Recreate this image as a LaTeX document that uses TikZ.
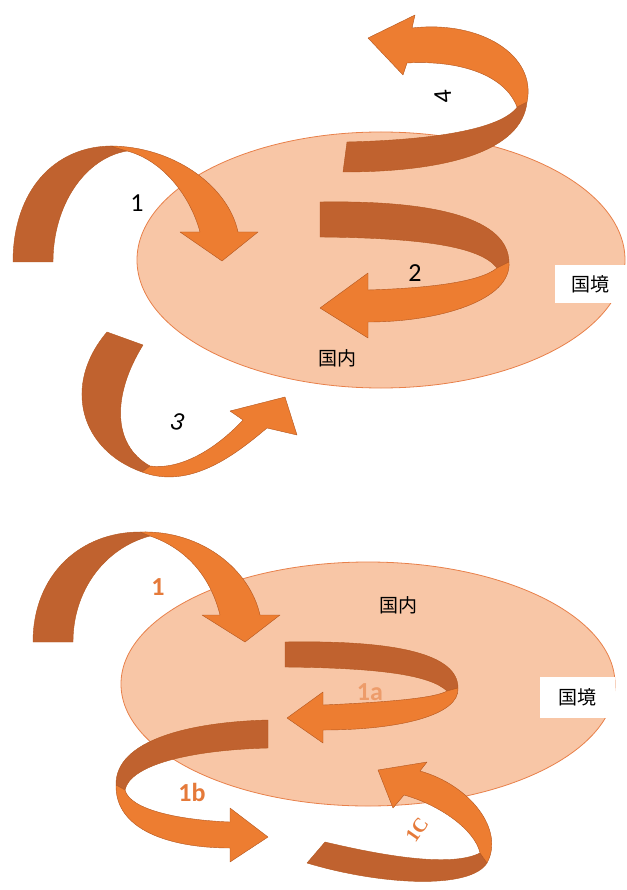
\documentclass[tikz,border=0pt]{standalone}
\usepackage{fontspec}
\setmainfont{Carlito}
\newfontfamily\cjkfont{Noto Sans CJK JP}
\newfontfamily\serifbold{Liberation Serif}
\usetikzlibrary{shapes.geometric}

\begin{document}
\begin{tikzpicture}[x=1pt, y=-1pt, font=\fontsize{26}{28}\selectfont]

\definecolor{ribbondark}{HTML}{C0622F}
\definecolor{ribbonlight}{HTML}{ED7D31}
\definecolor{ribbonedge}{HTML}{B3561F}
\definecolor{domfill}{HTML}{F8C6A6}
\definecolor{domline}{HTML}{E8804A}
\definecolor{labelorange}{HTML}{E57A3A}

\tikzset{
  countrydisc/.style={
    ellipse, draw=domline, fill=domfill, line width=0.8pt, inner sep=0pt
  },
  back/.style={fill=ribbondark, draw=ribbonedge, line width=0.4pt,
    line join=round},
  front/.style={fill=ribbonlight, draw=ribbonedge, line width=0.4pt,
    line join=round},
  place/.style={font=\cjkfont\fontsize{19}{21}\selectfont, text=black,
    inner sep=1pt},
  borderbox/.style={place, fill=white, inner sep=0pt},
  numlabel/.style={text=black},
  sublabel/.style={text=labelorange,
    font=\bfseries\fontsize{26}{28}\selectfont}
}

\useasboundingbox (0,0) rectangle (626,890);

% Upper picture: the country as one disc, four ways across its border.
\node[countrydisc, minimum width=488pt, minimum height=256pt] (domtop)
  at (381,260) {};
\node[borderbox, minimum width=71pt, minimum height=38pt] (bordertop)
  at (590,284) {国境};
\node[place] (insidetop) at (337,358) {国内};

% 1: in from outside. The ribbon shows its back (dark) until it turns over.
\path[back] (13,262) .. controls (13,190) and (55,146) .. (112,146)
  -- (127,151) .. controls (85,158) and (53,205) .. (53,262) -- cycle;
\path[front] (110,146) .. controls (172,146) and (228,185) .. (238,232)
  -- (258,232) -- (222,261) -- (180,232) -- (200,232)
  .. controls (190,195) and (162,160) .. (127,151) -- cycle;

% 2: stays inside.
\path[back] (320,202) .. controls (440,200) and (508,220) .. (509,262)
  -- (497,268) .. controls (480,246) and (420,238) .. (320,237) -- cycle;
\path[front] (509,262) .. controls (512,300) and (440,322) .. (368,322)
  -- (368,338) -- (320,308) -- (368,273) -- (368,290)
  .. controls (430,288) and (480,282) .. (497,268) -- cycle;

% 4: out from inside.
\path[back] (347,142) .. controls (430,140) and (502,130) .. (518,106)
  -- (527,102) .. controls (522,150) and (450,172) .. (343,172) -- cycle;
\path[front] (517,107) .. controls (505,75) and (460,60) .. (407,63)
  -- (403,75) -- (368,38) -- (415,15) -- (412,28)
  .. controls (480,20) and (537,55) .. (527,102) -- cycle;

% 3: passes by outside.
\path[back] (107,332) -- (143,345) .. controls (112,395) and (112,445) .. (150,466)
  -- (142,472) .. controls (80,450) and (62,385) .. (107,332) -- cycle;
\path[front] (142,472) .. controls (190,490) and (235,455) .. (267,428)
  -- (297,435) -- (285,397) -- (230,411) -- (243,420)
  .. controls (215,450) and (180,470) .. (150,466) -- cycle;

\node[numlabel] (numone) at (137,203) {1};
\node[numlabel] (numtwo) at (415,273) {2};
\node[numlabel, rotate=-12] (numthree) at (177,422) {\itshape 3};
\node[numlabel, rotate=95] (numfour) at (443,97) {4};

% Lower picture: what happens after route 1 has come in.
\node[countrydisc, minimum width=494pt, minimum height=244pt] (dombot)
  at (368,684) {};
\node[borderbox, minimum width=75pt, minimum height=41pt] (borderbot)
  at (577,697) {国境};
\node[place] (insidebot) at (398,605) {国内};

% 1
\path[back] (33,642) .. controls (33,575) and (80,532) .. (140,532)
  -- (150,536) .. controls (105,548) and (73,590) .. (73,642) -- cycle;
\path[front] (140,532) .. controls (202,530) and (250,570) .. (260,615)
  -- (280,615) -- (245,642) -- (202,615) -- (220,615)
  .. controls (210,575) and (185,548) .. (150,536) -- cycle;

% 1a
\path[back] (285,642) .. controls (400,640) and (458,655) .. (458,688)
  -- (447,691) .. controls (430,675) and (380,668) .. (285,667) -- cycle;
\path[front] (458,688) .. controls (460,715) and (400,730) .. (323,730)
  -- (323,743) -- (287,718) -- (323,692) -- (323,705)
  .. controls (390,702) and (435,698) .. (447,691) -- cycle;

% 1b
\path[back] (268,720) .. controls (190,722) and (115,740) .. (116,785)
  -- (125,790) .. controls (130,765) and (190,750) .. (268,748) -- cycle;
\path[front] (116,785) .. controls (115,830) and (170,848) .. (230,848)
  -- (230,862) -- (268,837) -- (230,808) -- (230,822)
  .. controls (180,820) and (130,810) .. (125,790) -- cycle;

% 1c
\path[back] (325,842) .. controls (380,855) and (450,868) .. (480,853)
  -- (487,863) .. controls (470,890) and (380,885) .. (307,863) -- cycle;
\path[front] (487,863) .. controls (505,830) and (470,785) .. (420,771)
  -- (427,762) -- (378,770) -- (393,808) -- (404,795)
  .. controls (440,805) and (475,830) .. (480,853) -- cycle;

\node[sublabel] (subone) at (158,587) {1};
\node[sublabel, opacity=0.55] (suba) at (370,692) {1a};
\node[sublabel] (subb) at (192,792) {1b};
\node[sublabel, font=\serifbold\bfseries\fontsize{20}{22}\selectfont,
  rotate=55] (subc) at (417,830) {1C};

\end{tikzpicture}
\end{document}
